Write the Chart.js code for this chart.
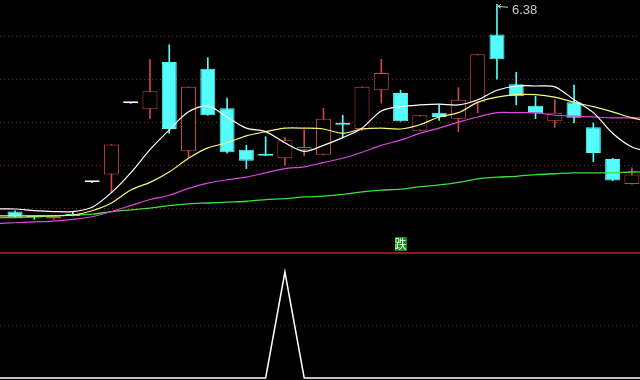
<!DOCTYPE html>
<html>
<head>
<meta charset="utf-8">
<script src="https://cdn.jsdelivr.net/npm/chart.js@4"></script>
<style>
  html, body { margin: 0; padding: 0; background: #000; }
  #wrap { position: relative; width: 640px; height: 380px; overflow: hidden; background: #000; }
  #priceChart { position: absolute; left: 0; top: 0; }
  #signalChart { position: absolute; left: 0; top: 252px; }
</style>
</head>
<body>
<div id="wrap">
  <canvas id="priceChart" width="640" height="252"></canvas>
  <canvas id="signalChart" width="640" height="128"></canvas>
</div>
<script>
// Candles (day index + OHLC)
const dayIndex = [0, 1, 2, 3, 4, 5, 6, 7, 8, 9, 10, 11, 12, 13, 14, 15, 16, 17, 18, 19, 20, 21, 22, 23, 24, 25, 26, 27, 28, 29, 30, 31, 32];
const openPrice  = [3.97, 3.91, 3.89, 3.93, 4.31, 4.40, 5.23, 5.16, 5.71, 4.67, 5.63, 5.17, 4.69, 4.63, 4.59, 4.69, 4.63, 5.00, 4.93, 5.38, 5.35, 4.91, 5.12, 5.05, 5.24, 6.03, 5.45, 5.20, 5.02, 5.24, 4.95, 4.58, 4.29];
const highPrice  = [3.98, 3.91, 3.90, 3.97, 4.31, 4.75, 5.23, 5.74, 5.91, 5.42, 5.76, 5.29, 4.74, 4.84, 4.83, 4.92, 5.17, 5.09, 5.42, 5.74, 5.38, 5.09, 5.21, 5.41, 5.80, 6.38, 5.59, 5.31, 5.27, 5.44, 5.00, 4.59, 4.48];
const lowPrice   = [3.90, 3.88, 3.88, 3.92, 4.31, 4.19, 5.23, 5.05, 4.88, 4.60, 5.09, 4.65, 4.47, 4.62, 4.51, 4.62, 4.63, 4.83, 4.91, 5.23, 5.02, 4.91, 5.03, 4.90, 5.12, 5.51, 5.21, 5.05, 4.95, 5.00, 4.55, 4.33, 4.29];
const closePrice = [3.91, 3.90, 3.90, 3.92, 4.31, 4.75, 5.23, 5.37, 4.93, 5.42, 5.09, 4.66, 4.56, 4.62, 4.80, 4.72, 5.05, 4.98, 5.42, 5.58, 5.02, 5.09, 5.07, 5.27, 5.80, 5.74, 5.31, 5.11, 5.12, 5.06, 4.65, 4.33, 4.40];

// Moving averages: one day before and after the visible candles so lines reach the edges
const lineIndex = [-1, 0, 1, 2, 3, 4, 5, 6, 7, 8, 9, 10, 11, 12, 13, 14, 15, 16, 17, 18, 19, 20, 21, 22, 23, 24, 25, 26, 27, 28, 29, 30, 31, 32, 33];
const ma5  = [4.00, 4.00, 3.98, 3.97, 3.97, 4.02, 4.19, 4.42, 4.69, 4.92, 5.13, 5.20, 5.07, 4.94, 4.90, 4.77, 4.67, 4.74, 4.83, 4.94, 5.14, 5.19, 5.21, 5.22, 5.21, 5.27, 5.38, 5.43, 5.43, 5.42, 5.27, 5.12, 4.88, 4.72, 4.66];
const ma10 = [3.92, 3.92, 3.92, 3.92, 3.93, 3.98, 4.07, 4.22, 4.31, 4.43, 4.59, 4.71, 4.77, 4.85, 4.90, 4.94, 4.94, 4.93, 4.88, 4.93, 4.94, 4.93, 4.98, 5.07, 5.12, 5.24, 5.30, 5.33, 5.33, 5.30, 5.24, 5.19, 5.13, 5.06, 5.01];
const ma20 = [3.83, 3.84, 3.85, 3.86, 3.88, 3.91, 3.97, 4.04, 4.11, 4.16, 4.24, 4.30, 4.34, 4.37, 4.42, 4.47, 4.49, 4.54, 4.59, 4.66, 4.74, 4.80, 4.88, 4.94, 5.01, 5.07, 5.12, 5.12, 5.12, 5.09, 5.08, 5.07, 5.06, 5.06, 5.06];
const ma60 = [3.90, 3.90, 3.91, 3.92, 3.93, 3.94, 3.97, 3.99, 4.01, 4.04, 4.06, 4.07, 4.08, 4.09, 4.11, 4.12, 4.14, 4.15, 4.17, 4.20, 4.22, 4.23, 4.26, 4.28, 4.31, 4.35, 4.37, 4.38, 4.40, 4.41, 4.42, 4.42, 4.42, 4.43, 4.43];

// Lower panel indicator
const indicator = [0, 0, 0, 0, 0, 0, 0, 0, 0, 0, 0, 0, 0, 0, 0, 100, 0, 0, 0, 0, 0, 0, 0, 0, 0, 0, 0, 0, 0, 0, 0, 0, 0, 0, 0];

// Grid levels
const priceTicks = [4.0, 4.5, 5.0, 5.5, 6.0];
const indicatorTicks = [50];

// Signal markers
const signalIdx = [20];
const signalText = ['跌'];

const UP = '#cc4840';
const DOWN = '#54fcfc';
const FLAT = '#ffffff';

function candleColor(i) {
  if (closePrice[i] > openPrice[i]) return UP;
  if (closePrice[i] < openPrice[i]) return DOWN;
  return FLAT;
}

const strokeCol = dayIndex.map(candleColor);
const fillCol = dayIndex.map(i => candleColor(i) === UP ? '#000000' : candleColor(i));

function maLine(label, values, color, width) {
  return {
    type: 'line',
    label: label,
    data: lineIndex.map((x, k) => ({ x: x, y: values[k] })),
    borderColor: color,
    borderWidth: width,
    pointRadius: 0,
    tension: 0.3,
    order: 0
  };
}

// Arrow + value at the highest high
const highLabel = {
  id: 'highLabel',
  afterDatasetsDraw(chart) {
    const { ctx, scales } = chart;
    let top = 0;
    highPrice.forEach((v, i) => { if (v > highPrice[top]) top = i; });
    const x = scales.x.getPixelForValue(dayIndex[top]);
    const y = scales.y.getPixelForValue(highPrice[top]);
    ctx.save();
    ctx.strokeStyle = '#c8c8c8';
    ctx.lineWidth = 1;
    ctx.beginPath();
    ctx.moveTo(x + 1, y + 2); ctx.lineTo(x + 11, y + 3);
    ctx.moveTo(x + 1, y + 2); ctx.lineTo(x + 4, y);
    ctx.moveTo(x + 1, y + 2); ctx.lineTo(x + 4, y + 4);
    ctx.stroke();
    ctx.fillStyle = '#c8c8c8';
    ctx.font = '13px "Liberation Sans", Arial, sans-serif';
    ctx.textBaseline = 'middle';
    ctx.fillText(highPrice[top].toFixed(2), x + 15, y + 6);
    ctx.restore();
  }
};

// Green boxed signal text at the bottom of the price panel
const signalMark = {
  id: 'signalMark',
  afterDatasetsDraw(chart) {
    const { ctx, scales, chartArea } = chart;
    ctx.save();
    ctx.font = '12px "Noto Sans CJK SC", sans-serif';
    ctx.textAlign = 'center';
    ctx.textBaseline = 'middle';
    signalIdx.forEach((idx, k) => {
      const x = scales.x.getPixelForValue(idx);
      const y = chartArea.bottom - 15;
      ctx.fillStyle = '#168a16';
      ctx.fillRect(Math.round(x - 6), y, 12, 14);
      ctx.fillStyle = '#f0fff0';
      ctx.fillText(signalText[k], x, y + 7);
    });
    ctx.restore();
  }
};

// Red separator line on top of the lower panel
const topRule = {
  id: 'topRule',
  beforeDatasetsDraw(chart) {
    const { ctx, chartArea } = chart;
    ctx.save();
    ctx.strokeStyle = '#8c1c1c';
    ctx.lineWidth = 2;
    ctx.beginPath();
    ctx.moveTo(chartArea.left, chartArea.top + 1);
    ctx.lineTo(chartArea.right, chartArea.top + 1);
    ctx.stroke();
    ctx.restore();
  }
};

const xAxis = { type: 'linear', min: -0.78, max: 32.42, display: false, offset: false };

new Chart(document.getElementById('priceChart'), {
  type: 'bar',
  data: {
    datasets: [
      maLine('MA5', ma5, '#ffffff', 1.2),
      maLine('MA10', ma10, '#f8f878', 1.2),
      maLine('MA20', ma20, '#dc48dc', 1.2),
      maLine('MA60', ma60, '#3ce03c', 1.3),
      {
        label: 'body',
        data: dayIndex.map(i => ({ x: i, y: [openPrice[i], closePrice[i]] })),
        backgroundColor: fillCol,
        borderColor: strokeCol,
        borderWidth: 1,
        borderSkipped: false,
        barThickness: 15,
        minBarLength: 2,
        inflateAmount: 0,
        grouped: false,
        order: 1
      },
      {
        label: 'wick',
        data: dayIndex.map(i => ({ x: i, y: [lowPrice[i], highPrice[i]] })),
        backgroundColor: strokeCol,
        borderWidth: 0,
        barThickness: 1,
        grouped: false,
        order: 2
      }
    ]
  },
  options: {
    responsive: false,
    animation: false,
    events: [],
    layout: { padding: 0 },
    plugins: { legend: { display: false }, tooltip: { enabled: false } },
    scales: {
      x: xAxis,
      y: {
        min: 3.5,
        max: 6.43,
        afterBuildTicks: axis => { axis.ticks = priceTicks.map(v => ({ value: v })); },
        ticks: { display: false },
        grid: { color: '#8a2020', lineWidth: 1, drawTicks: false },
        border: { display: false, dash: [1, 3] }
      }
    }
  },
  plugins: [highLabel, signalMark]
});

new Chart(document.getElementById('signalChart'), {
  type: 'line',
  data: {
    datasets: [{
      label: 'signal',
      data: lineIndex.map((x, k) => ({ x: x, y: indicator[k] })),
      borderColor: '#ffffff',
      borderWidth: 1.5,
      pointRadius: 0,
      tension: 0
    }]
  },
  options: {
    responsive: false,
    animation: false,
    events: [],
    layout: { padding: 0 },
    plugins: { legend: { display: false }, tooltip: { enabled: false } },
    scales: {
      x: xAxis,
      y: {
        min: -1.9,
        max: 118.9,
        afterBuildTicks: axis => { axis.ticks = indicatorTicks.map(v => ({ value: v })); },
        ticks: { display: false },
        grid: { color: '#641616', lineWidth: 1, drawTicks: false },
        border: { display: false, dash: [1, 3] }
      }
    }
  },
  plugins: [topRule]
});
</script>
</body>
</html>
